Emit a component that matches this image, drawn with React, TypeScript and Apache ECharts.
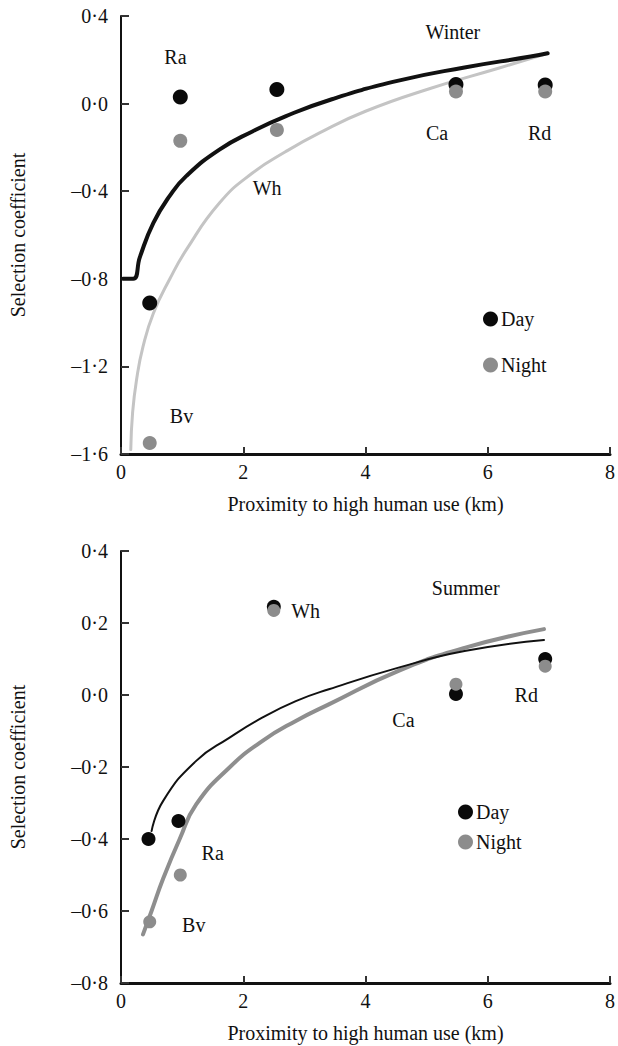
import React, { useEffect, useRef } from "react";
import * as echarts from "echarts";

// ---------- Winter (top) ----------
const winterDay: [number, number][] = [
  [0.47, -0.91], [0.97, 0.03], [2.55, 0.064], [5.48, 0.087], [6.94, 0.085],
];
const winterNight: [number, number][] = [
  [0.47, -1.55], [0.97, -0.17], [2.55, -0.12], [5.48, 0.055], [6.94, 0.055],
];
const winterDayFit: [number, number][] = [
  [0.03, -0.8], [0.2, -0.8], [0.31, -0.7], [0.53, -0.545], [0.8, -0.42], [1.07, -0.33],
  [1.61, -0.21], [2.15, -0.127], [2.69, -0.058], [3.45, 0.02], [4.54, 0.105],
  [5.62, 0.165], [6.7, 0.215], [6.98, 0.23],
];
const winterNightFit: [number, number][] = [
  [0.16, -1.58], [0.19, -1.41], [0.255, -1.26], [0.36, -1.11], [0.53, -0.957],
  [0.8, -0.8], [1.07, -0.667], [1.61, -0.454], [2.15, -0.317], [2.69, -0.22],
  [3.24, -0.135], [4.0, -0.035], [5.07, 0.07], [6.16, 0.16], [6.98, 0.23],
];
const winterLabels = [
  { name: "Ra", value: [0.89, 0.215] },
  { name: "Wh", value: [2.39, -0.384] },
  { name: "Winter", value: [5.43, 0.329] },
  { name: "Ca", value: [5.17, -0.133] },
  { name: "Rd", value: [6.85, -0.133] },
  { name: "Bv", value: [0.99, -1.426] },
];

// ---------- Summer (bottom) ----------
const summerDay: [number, number][] = [
  [0.45, -0.4], [0.94, -0.35], [2.5, 0.245], [5.48, 0.003], [6.94, 0.1],
];
const summerNight: [number, number][] = [
  [0.47, -0.63], [0.97, -0.5], [2.5, 0.235], [5.48, 0.03], [6.94, 0.08],
];
const summerDayFit: [number, number][] = [
  [0.5, -0.378], [0.69, -0.294], [1.23, -0.183], [1.77, -0.119], [2.31, -0.063],
  [2.86, -0.017], [3.4, 0.016], [4.54, 0.076], [5.62, 0.122], [6.92, 0.153],
];
const summerNightFit: [number, number][] = [
  [0.36, -0.665], [0.5, -0.6], [0.69, -0.51], [0.96, -0.4], [1.23, -0.304],
  [1.77, -0.202], [2.31, -0.128], [2.86, -0.072], [3.4, -0.026], [4.54, 0.067],
  [5.62, 0.131], [6.92, 0.183],
];
const summerLabels = [
  { name: "Wh", value: [3.02, 0.233] },
  { name: "Summer", value: [5.64, 0.297] },
  { name: "Ca", value: [4.62, -0.069] },
  { name: "Rd", value: [6.63, 0.0] },
  { name: "Ra", value: [1.5, -0.44] },
  { name: "Bv", value: [1.19, -0.64] },
];

const xTicks = { min: 0, max: 8, interval: 2 };
const topY = { min: -1.6, max: 0.4, interval: 0.4 };
const botY = { min: -0.8, max: 0.4, interval: 0.2 };

const FONT = "Liberation Serif";
const TXT = "#111111";
const FS = 20;

const fmtY = (v: number) =>
  (v < -1e-9 ? "\u2013" : "") + Math.abs(v).toFixed(1).replace(".", "\u00b7");

function xAxis(gridIndex: number) {
  return {
    type: "value",
    gridIndex,
    ...xTicks,
    name: "Proximity to high human use (km)",
    nameLocation: "middle",
    nameGap: 40,
    nameTextStyle: { fontFamily: FONT, fontSize: FS, color: TXT },
    axisLine: { show: true, onZero: false, lineStyle: { color: "#111", width: 3 } },
    axisTick: { show: true, inside: true, length: 7, lineStyle: { color: "#333", width: 2 } },
    axisLabel: { margin: 8, fontFamily: FONT, fontSize: FS, color: TXT },
    splitLine: { show: false },
  };
}
function yAxis(gridIndex: number, r: { min: number; max: number; interval: number }) {
  return {
    type: "value",
    gridIndex,
    ...r,
    name: "Selection coefficient",
    nameLocation: "middle",
    nameGap: 93,
    nameTextStyle: { fontFamily: FONT, fontSize: FS, color: TXT },
    axisLine: { show: true, onZero: false, lineStyle: { color: "#111", width: 2 } },
    axisTick: { show: true, inside: true, length: 8, lineStyle: { color: "#333", width: 2 } },
    axisLabel: { margin: 13, fontFamily: FONT, fontSize: FS, color: TXT, formatter: fmtY },
    splitLine: { show: false },
  };
}
function labelSeries(idx: number, data: any[]) {
  return {
    type: "scatter",
    xAxisIndex: idx,
    yAxisIndex: idx,
    symbolSize: 1,
    silent: true,
    z: 10,
    data,
    itemStyle: { color: "rgba(0,0,0,0)", opacity: 1 },
    label: {
      show: true,
      position: "inside",
      formatter: "{b}",
      fontFamily: FONT,
      fontSize: FS,
      color: TXT,
      opacity: 1,
    },
  };
}
function lineSeries(idx: number, name: string, data: any, color: string, width: number) {
  return {
    type: "line",
    name,
    xAxisIndex: idx,
    yAxisIndex: idx,
    data,
    smooth: 0.5,
    showSymbol: false,
    symbol: "none",
    lineStyle: { color, width, cap: "round", join: "round" },
    z: 2,
  };
}
function dotSeries(idx: number, name: string, data: any, color: string, size: number, z: number) {
  return {
    type: "scatter",
    name,
    xAxisIndex: idx,
    yAxisIndex: idx,
    data,
    symbol: "circle",
    symbolSize: size,
    itemStyle: { color, opacity: 1 },
    z,
  };
}
function legend(left: number, top: number, gap: number) {
  return {
    orient: "vertical",
    left,
    top,
    itemGap: gap,
    itemWidth: 15,
    itemHeight: 15,
    icon: "circle",
    selectedMode: false,
    data: ["Day", "Night"],
    textStyle: { fontFamily: FONT, fontSize: FS, color: TXT, lineHeight: 20, padding: [2, 0, 0, -2] },
  };
}

export default function App() {
  const ref = useRef<HTMLDivElement>(null);
  useEffect(() => {
    if (!ref.current) return;
    const chart = echarts.init(ref.current, null, { renderer: "svg" });
    chart.setOption({
      animation: false,
      backgroundColor: "#ffffff",
      textStyle: { fontFamily: FONT },
      grid: [
        { left: 121, top: 16, width: 492, height: 438 },
        { left: 121, top: 551, width: 492, height: 432 },
      ],
      xAxis: [xAxis(0), xAxis(1)],
      yAxis: [yAxis(0, topY), yAxis(1, botY)],
      legend: [legend(478, 303, 24), legend(453, 796, 8)],
      series: [
        lineSeries(0, "Night fit W", winterNightFit, "#c4c4c4", 3),
        lineSeries(0, "Day fit W", winterDayFit, "#111111", 4),
        dotSeries(0, "Day", winterDay, "#0a0a0a", 15, 3),
        dotSeries(0, "Night", winterNight, "#8c8c8c", 14, 4),
        labelSeries(0, winterLabels),
        lineSeries(1, "Night fit S", summerNightFit, "#8e8e8e", 4),
        lineSeries(1, "Day fit S", summerDayFit, "#111111", 2),
        dotSeries(1, "Day", summerDay, "#0a0a0a", 14, 3),
        dotSeries(1, "Night", summerNight, "#8c8c8c", 13, 4),
        labelSeries(1, summerLabels),
      ],
    });
    return () => chart.dispose();
  }, []);
  return (
    <div
      ref={ref}
      style={{ position: "absolute", left: 0, top: 0, width: 618, height: 1046, background: "#fff" }}
    />
  );
}
